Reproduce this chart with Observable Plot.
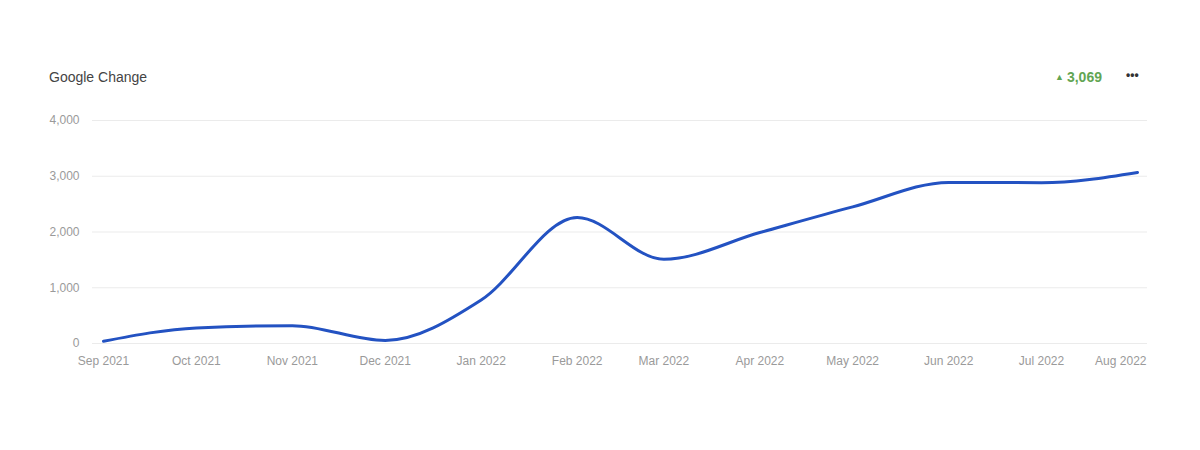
<!DOCTYPE html>
<html>
<head>
<meta charset="utf-8">
<script src="https://cdn.jsdelivr.net/npm/d3@7"></script>
<script src="https://cdn.jsdelivr.net/npm/@observablehq/plot@0.6"></script>
<style>
  html, body { margin: 0; padding: 0; background: #fff; }
  #wrap { position: relative; width: 1200px; height: 450px; font-family: "Liberation Sans", Arial, sans-serif; }
  #title { position: absolute; left: 49px; top: 69px; font-size: 14px; color: #444; }
  #change { position: absolute; left: 1055px; top: 69px; font-size: 14px; font-weight: bold; color: #62a553; }
  #change .tri { font-size: 9px; position: relative; top: -2px; margin-right: 3px; }
  #more { position: absolute; left: 1126px; top: 68px; font-size: 12px; font-weight: bold; color: #333; letter-spacing: 0px; }
  svg { position: absolute; left: 0; top: 0; }
</style>
</head>
<body>
<div id="wrap">
  <div id="chart"></div>
  <div id="title">Google Change</div>
  <div id="change"><span class="tri">▲</span>3,069</div>
  <div id="more">•••</div>
</div>
<script>
const months = ["2021-09-01","2021-10-01","2021-11-01","2021-12-01","2022-01-01","2022-02-01","2022-03-01","2022-04-01","2022-05-01","2022-06-01","2022-07-01","2022-08-01"];
const values = [40, 280, 320, 55, 780, 2260, 1510, 1990, 2450, 2890, 2885, 3069];
const tickLabels = ["Sep 2021","Oct 2021","Nov 2021","Dec 2021","Jan 2022","Feb 2022","Mar 2022","Apr 2022","May 2022","Jun 2022","Jul 2022","Aug 2022"];
const yTicks = [0, 1000, 2000, 3000, 4000];

const data = months.map((m, i) => ({date: new Date(m + "T00:00:00"), value: values[i]}));
const tickData = months.map((m, i) => ({date: new Date(m + "T00:00:00"), label: tickLabels[i]}));
const lastTick = tickData.slice(-1);
const otherTicks = tickData.slice(0, -1);

const chart = Plot.plot({
  width: 1200,
  height: 450,
  marginTop: 120,
  marginBottom: 107,
  marginLeft: 92,
  marginRight: 53,
  style: {fontFamily: "Liberation Sans, Arial, sans-serif", fontSize: "12px", background: "transparent"},
  x: {type: "time", domain: [data[0].date, data[data.length - 1].date], insetLeft: 11, insetRight: 10, axis: null},
  y: {domain: [0, 4000], axis: null},
  marks: [
    Plot.ruleY(yTicks, {stroke: "#ebebeb", strokeWidth: 1}),
    Plot.axisY({ticks: yTicks, tickSize: 0, tickPadding: 13, tickFormat: d3.format(","), fill: "#9a9a9a", label: null}),
    Plot.text(otherTicks, {x: "date", text: "label", frameAnchor: "bottom", dy: 21, fill: "#9a9a9a", fontSize: 12}),
    Plot.text(lastTick, {x: "date", text: "label", frameAnchor: "bottom", dy: 21, dx: 9, textAnchor: "end", fill: "#9a9a9a", fontSize: 12}),
    Plot.line(data, {x: "date", y: "value", stroke: "#2352c2", strokeWidth: 3, curve: "monotone-x"})
  ]
});
document.getElementById("chart").appendChild(chart);
</script>
</body>
</html>
